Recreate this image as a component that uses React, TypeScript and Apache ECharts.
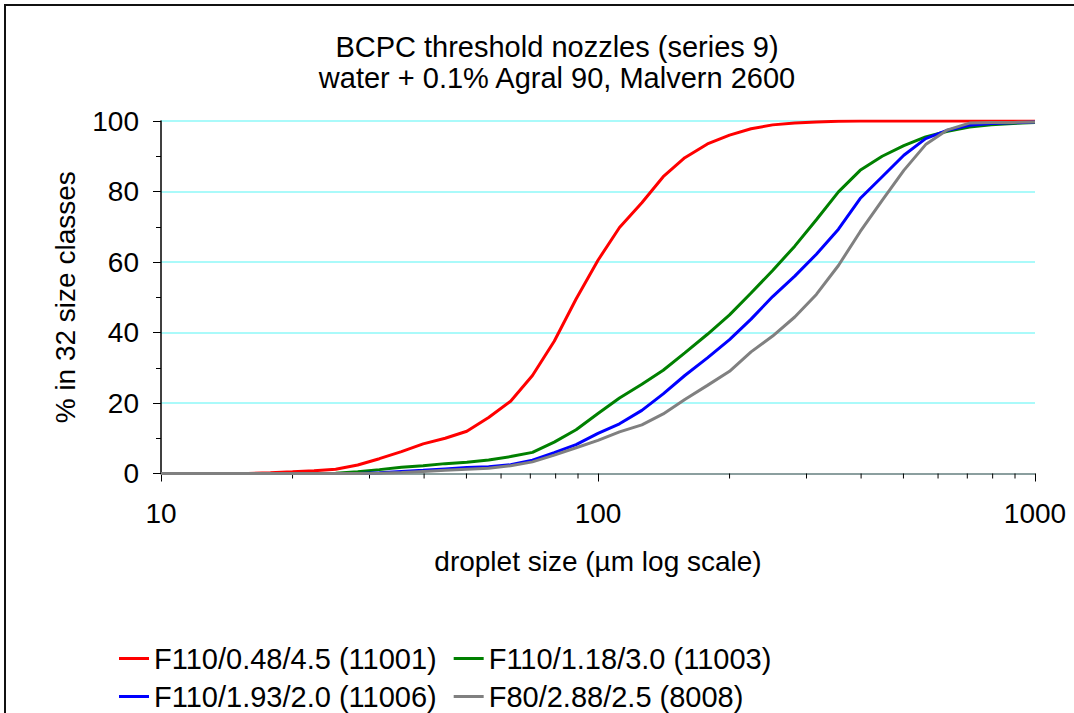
import React, { useEffect, useRef } from "react";
import * as echarts from "echarts";

// droplet size classes (µm)
const sizes = [10, 11.2, 12.6, 14.1, 15.8, 17.8, 20.0, 22.4, 25.1, 28.2, 31.6, 35.5, 39.8, 44.7, 50.1, 56.2, 63.1, 70.8, 79.4, 89.1, 100, 112, 126, 141, 158, 178, 200, 224, 251, 282, 316, 355, 398, 447, 501, 562, 631, 708, 794, 891, 1000];

const red = [0, 0, 0, 0, 0, 0.2, 0.5, 0.8, 1.2, 2.4, 4.2, 6.2, 8.4, 10.0, 12.0, 15.9, 20.5, 27.8, 37.5, 49.5, 60.5, 69.8, 76.8, 84.2, 89.6, 93.5, 96.0, 97.8, 98.9, 99.4, 99.7, 99.9, 100, 100, 100, 100, 100, 100, 100, 100, 100];
const green = [0, 0, 0, 0, 0, 0, 0, 0, 0.1, 0.5, 1.1, 1.8, 2.2, 2.8, 3.2, 3.8, 4.8, 6.0, 8.9, 12.4, 17.0, 21.4, 25.3, 29.3, 34.2, 39.5, 45.0, 51.2, 57.6, 64.5, 72.0, 79.9, 86.0, 90.0, 93.0, 95.5, 97.1, 98.3, 98.9, 99.3, 99.6];
const blue = [0, 0, 0, 0, 0, 0, 0, 0, 0, 0, 0.2, 0.6, 0.9, 1.3, 1.7, 1.9, 2.5, 3.8, 5.9, 8.2, 11.4, 14.1, 17.9, 22.6, 27.8, 32.8, 38.0, 43.8, 50.2, 56.0, 62.2, 69.3, 78.0, 84.2, 90.3, 95.0, 97.4, 98.8, 99.3, 99.5, 99.7];
const gray = [0, 0, 0, 0, 0, 0, 0, 0, 0, 0, 0.1, 0.3, 0.6, 0.9, 1.2, 1.5, 2.2, 3.3, 5.2, 7.3, 9.4, 11.8, 13.8, 16.9, 21.0, 25.0, 29.0, 34.5, 39.0, 44.4, 50.8, 59.0, 68.6, 77.5, 86.0, 93.3, 97.5, 99.4, 99.6, 99.6, 99.7];

const seriesNames = [
  "F110/0.48/4.5 (11001)",
  "F110/1.18/3.0 (11003)",
  "F110/1.93/2.0 (11006)",
  "F80/2.88/2.5 (8008)",
];
const seriesColors = ["#FF0000", "#008000", "#0000FF", "#808080"];
const seriesValues = [red, green, blue, gray];

const minorTickSizes = [20, 30, 40, 50, 60, 70, 80, 90, 200, 300, 400, 500, 600, 700, 800, 900];

const titleLines = ["BCPC threshold nozzles (series 9)", "water + 0.1% Agral 90, Malvern 2600"];

const FONT = "'Liberation Sans', Arial, sans-serif";

export default function App() {
  const ref = useRef<HTMLDivElement>(null);

  useEffect(() => {
    document.body.style.margin = "0";
    const chart = echarts.init(ref.current as HTMLDivElement, null, { renderer: "svg" });

    const lineSeries = seriesNames.map((name, i) => ({
      name,
      type: "line",
      data: sizes.map((s, j) => [s, seriesValues[i][j]]),
      showSymbol: false,
      symbol: "none",
      lineStyle: { color: seriesColors[i], width: 3 },
      itemStyle: { color: seriesColors[i] },
      z: 3 + i,
    }));

    const legendBase = {
      left: 114,
      icon: "rect",
      itemWidth: 30,
      itemHeight: 3,
      itemGap: 17,
      textStyle: { fontSize: 29, color: "#000", fontFamily: FONT },
    };

    const option: any = {
      animation: false,
      backgroundColor: "#ffffff",
      textStyle: { fontFamily: FONT },
      title: {
        text: titleLines.join("\n"),
        left: 552,
        top: 26,
        textAlign: "center",
        textStyle: { fontSize: 29, fontWeight: "normal", color: "#000", lineHeight: 31, fontFamily: FONT },
      },
      legend: [
        { ...legendBase, data: [seriesNames[0], seriesNames[1]], top: 639 },
        { ...legendBase, data: [seriesNames[2], seriesNames[3]], top: 677 },
      ],
      grid: { left: 161, right: 39, top: 121, bottom: 239.5, containLabel: false },
      xAxis: {
        type: "log",
        logBase: 10,
        min: 10,
        max: 1000,
        name: "droplet size (µm log scale)",
        nameLocation: "middle",
        nameGap: 74,
        nameTextStyle: { fontSize: 28, color: "#000", fontFamily: FONT },
        axisLine: { lineStyle: { color: "#808080", width: 1.5 } },
        axisTick: { show: true, length: 8, lineStyle: { color: "#000" } },
        axisLabel: {
          fontSize: 28,
          color: "#000",
          margin: 26,
          fontFamily: FONT,
          formatter: (v: number) => String(Math.round(v)),
        },
        splitLine: { show: false },
      },
      yAxis: {
        type: "value",
        min: 0,
        max: 100,
        interval: 20,
        name: "% in 32 size classes",
        nameLocation: "middle",
        nameGap: 82,
        nameTextStyle: { fontSize: 28, color: "#000", fontFamily: FONT },
        axisLine: { show: true, lineStyle: { color: "#000", width: 1.5 } },
        axisTick: { show: true, length: 8, lineStyle: { color: "#000" } },
        minorTick: { show: true, splitNumber: 2, length: 5, lineStyle: { color: "#000" } },
        axisLabel: { fontSize: 28, color: "#000", margin: 22, fontFamily: FONT },
        splitLine: { show: true, lineStyle: { color: "#8EF8F8", width: 1.5 } },
      },
      graphic: [
        {
          type: "rect",
          shape: { x: 5, y: 5, width: 1200, height: 900 },
          style: { fill: "none", stroke: "#111", lineWidth: 2 },
          silent: true,
        },
      ],
      series: [
        ...lineSeries,
        {
          name: "minorTicks",
          type: "custom",
          data: minorTickSizes.map((v) => [v, 0]),
          clip: false,
          silent: true,
          z: 2,
          renderItem: (params: any, api: any) => {
            const p = api.coord([api.value(0), 0]);
            return {
              type: "line",
              shape: { x1: p[0], y1: p[1], x2: p[0], y2: p[1] + 5 },
              style: { stroke: "#000", lineWidth: 1 },
            };
          },
        },
      ],
    };

    chart.setOption(option);
    return () => chart.dispose();
  }, []);

  return <div ref={ref} style={{ width: 1074, height: 713 }} />;
}
